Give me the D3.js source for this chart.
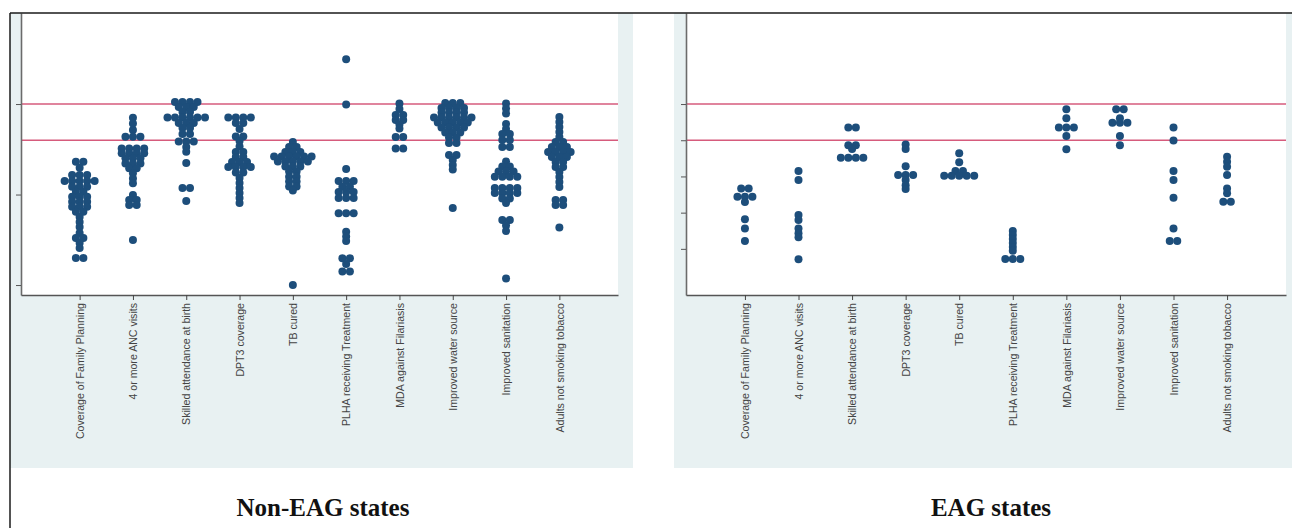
<!DOCTYPE html>
<html>
<head>
<meta charset="utf-8">
<script src="https://cdn.jsdelivr.net/npm/d3@7"></script>
<style>
  html, body { margin: 0; padding: 0; background: #ffffff; }
  svg { display: block; }
</style>
</head>
<body>
<script>
// Indicator names shared by both panels
const categories = [
  "Coverage of Family Planning",
  "4 or more ANC visits",
  "Skilled attendance at birth",
  "DPT3 coverage",
  "TB cured",
  "PLHA receiving Treatment",
  "MDA against Filariasis",
  "Improved water source",
  "Improved  sanitation",
  "Adults not smoking tobacco"
];

// Target lines drawn across both panels (percent)
const referenceLines = [100, 80];

// Tick positions on the (unlabelled) y axes
const nonEagTicks = [0, 50, 100];
const eagTicks = [20, 40, 60, 80, 100];

// Panel titles
const panelTitles = ["Non-EAG states", "EAG states"];

// Non-EAG states: one value per dot, per indicator (percent achieved)
const nonEagValues = [
  [68.1, 68.1, 64.8, 60.8, 60.8, 60.8, 57.5, 57.5, 57.5, 57.5, 57.5, 54.3, 54.3, 54.3,
   51.5, 51.5, 48.8, 48.8, 48.8, 46.0, 46.0, 46.0, 43.3, 43.3, 43.3, 40.5, 40.5,
   37.6, 34.8, 32.0, 28.7, 26.0, 26.0, 23.2, 20.4, 14.9, 14.9],
  [92.4, 89.3, 85.6, 81.9, 81.9, 81.9, 75.5, 75.5, 75.5, 75.5, 72.8, 72.8, 72.8, 72.8,
   70.0, 70.0, 70.0, 67.2, 67.2, 67.2, 64.5, 64.5, 61.7, 58.9, 56.2,
   49.7, 47.0, 47.0, 44.2, 44.2, 24.9],
  [101.1, 101.1, 101.1, 101.1, 98.3, 98.3, 98.3, 95.6, 95.6,
   92.5, 92.5, 92.5, 92.5, 92.5, 92.5, 89.5, 89.5, 89.5, 86.7, 86.7, 83.4, 83.4,
   79.3, 79.3, 79.3, 76.2, 73.6, 67.4, 53.6, 53.6, 46.4],
  [92.5, 92.5, 92.5, 92.5, 89.5, 89.5, 86.2, 82.0, 82.0, 79.6, 76.5, 73.5, 73.5,
   70.7, 70.7, 68.0, 68.0, 68.0, 65.2, 65.2, 65.2, 65.2, 62.2, 62.2,
   59.1, 56.4, 53.6, 50.8, 48.1, 45.3],
  [79.0, 76.2, 76.2, 73.5, 73.5, 73.5, 71.0, 71.0, 71.0, 71.0, 71.0, 71.0,
   68.2, 68.2, 68.2, 68.2, 68.2, 65.5, 65.5, 65.5, 62.7, 62.7, 59.9, 59.9,
   57.2, 57.2, 54.4, 54.4, 52.2, 0],
  [124.7, 99.8, 64.1, 57.5, 57.5, 57.5, 54.3, 54.3, 51.4, 51.4, 51.4, 48.1, 48.1, 48.1,
   39.6, 39.6, 39.6, 29.4, 26.8, 24.3, 14.8, 14.8, 11.6, 7.5, 7.5],
  [100.3, 97.2, 93.9, 93.9, 91.2, 91.2, 88.7, 86.5, 81.8, 81.8, 75.4, 75.4],
  [100.6, 100.6, 100.6, 97.8, 97.8, 97.8, 97.8, 95.3, 95.3, 95.3, 95.3,
   92.5, 92.5, 92.5, 92.5, 92.5, 92.5, 89.8, 89.8, 89.8, 89.8, 89.8,
   87.0, 87.0, 87.0, 87.0, 84.3, 84.3, 84.3, 81.5, 81.5, 78.5, 78.5,
   71.8, 71.8, 69.1, 66.3, 63.8, 42.5],
  [100.3, 97.5, 94.8, 89.0, 86.2, 83.4, 83.4, 80.1, 80.1, 76.2, 76.2,
   68.2, 65.5, 65.5, 62.7, 62.7, 62.7, 59.9, 59.9, 59.9, 59.9,
   53.6, 53.6, 53.6, 53.6, 50.8, 50.8, 50.8, 50.8, 47.8, 47.8, 45.3,
   35.9, 35.9, 32.9, 29.8, 3.6],
  [92.8, 90.1, 87.3, 84.5, 81.8, 79.0, 79.0, 76.2, 76.2, 76.2, 73.5, 73.5, 73.5, 73.5,
   70.7, 70.7, 70.7, 68.0, 68.0, 65.2, 65.2, 62.4, 59.7, 56.9, 54.1,
   47.0, 47.0, 44.2, 44.2, 31.8]
];

// EAG states: one value per dot, per indicator (percent achieved)
const eagValues = [
  [53.4, 53.4, 48.8, 48.8, 48.8, 45.9, 36.3, 31.3, 24.3],
  [63.0, 58.0, 38.7, 35.9, 31.3, 28.6, 26.4, 14.2],
  [87.1, 87.1, 77.3, 77.3, 75.1, 70.3, 70.3, 70.3, 70.3],
  [77.7, 75.1, 65.7, 60.8, 60.8, 60.8, 58.0, 55.2, 53.0],
  [72.8, 67.8, 63.0, 63.0, 60.4, 60.4, 60.4, 60.4, 60.4],
  [29.8, 27.6, 25.4, 23.2, 21.0, 19.0, 14.4, 14.4, 14.4],
  [97.1, 92.1, 87.1, 87.1, 87.1, 82.3, 75.0],
  [97.1, 97.1, 92.1, 89.7, 89.7, 89.7, 82.3, 77.3],
  [87.1, 79.9, 63.0, 58.0, 48.2, 31.3, 24.3, 24.3],
  [70.9, 68.1, 65.4, 60.8, 53.4, 50.7, 46.0, 46.0]
];

const W = 1292, H = 528;
const plotTop = 13, plotBottom = 295, panelBottom = 468;
const dotRadius = 4, dotStep = 7.5;
const dotColor = "#1d4e7b";
const refColor = "#d65b7c";
const panelFill = "#e8f1f2";

const panels = [
  { values: nonEagValues, ticks: nonEagTicks, title: panelTitles[0],
    bgX0: 10, bgX1: 633, axisX0: 21, axisX1: 618, titleX: 323 },
  { values: eagValues, ticks: eagTicks, title: panelTitles[1],
    bgX0: 674, bgX1: 1292, axisX0: 686, axisX1: 1286, titleX: 991 }
];

const svg = d3.select("body").append("svg")
  .attr("width", W).attr("height", H);

// Shared vertical scale (percent)
const y = d3.scaleLinear().domain([-5.5, 150.3]).range([plotBottom, plotTop]);

panels.forEach(p => {
  const g = svg.append("g");

  g.append("rect")
    .attr("x", p.bgX0).attr("y", plotTop)
    .attr("width", p.bgX1 - p.bgX0).attr("height", panelBottom - plotTop)
    .attr("fill", panelFill);

  g.append("rect")
    .attr("x", p.axisX0).attr("y", plotTop)
    .attr("width", p.axisX1 - p.axisX0).attr("height", plotBottom - plotTop)
    .attr("fill", "#ffffff");

  const x = d3.scalePoint().domain(categories)
    .range([p.axisX0, p.axisX1]).padding(1.1);

  // Target lines
  g.selectAll("line.ref").data(referenceLines).join("line")
    .attr("class", "ref")
    .attr("x1", p.axisX0).attr("x2", p.axisX1)
    .attr("y1", d => y(d)).attr("y2", d => y(d))
    .attr("stroke", refColor).attr("stroke-width", 1.6);

  // Dot plot: equal values share a row, centred on the category
  const dots = [];
  p.values.forEach((vals, i) => {
    const rows = d3.group(vals, v => v);
    rows.forEach((arr, v) => {
      const n = arr.length;
      arr.forEach((_, k) => {
        dots.push({ cat: categories[i], value: v, offset: (k - (n - 1) / 2) * dotStep });
      });
    });
  });

  g.selectAll("circle.dot").data(dots).join("circle")
    .attr("class", "dot")
    .attr("cx", d => x(d.cat) + d.offset)
    .attr("cy", d => y(d.value))
    .attr("r", dotRadius)
    .attr("fill", dotColor);

  // Y axis (ticks only)
  const ya = g.append("g")
    .attr("transform", `translate(${p.axisX0},0)`)
    .call(d3.axisLeft(y).tickValues(p.ticks).tickFormat("").tickSize(5).tickSizeOuter(0));
  ya.select(".domain").attr("stroke", "#6b6b6b").attr("stroke-width", 1.6);
  ya.selectAll(".tick line").attr("stroke", "#555");

  // X axis with rotated category labels
  const xa = g.append("g")
    .attr("transform", `translate(0,${plotBottom})`)
    .call(d3.axisBottom(x).tickSize(5).tickSizeOuter(0));
  xa.select(".domain").attr("stroke", "#555").attr("stroke-width", 1.6);
  xa.selectAll(".tick line").attr("stroke", "#444");
  xa.selectAll(".tick text")
    .attr("transform", "rotate(-90)")
    .attr("x", -8).attr("y", 0).attr("dy", "0.35em")
    .style("text-anchor", "end")
    .style("font-family", "'Liberation Sans', Arial, sans-serif")
    .style("font-size", "10.6px")
    .attr("fill", "#444");

  // Panel title
  svg.append("text")
    .attr("x", p.titleX).attr("y", 516)
    .attr("text-anchor", "middle")
    .style("font-family", "'Liberation Serif', 'Times New Roman', serif")
    .style("font-weight", "bold")
    .style("font-size", "25px")
    .attr("fill", "#111")
    .text(p.title);
});

// Outer frame (top and left rules)
svg.append("line").attr("x1", 10).attr("x2", W).attr("y1", plotTop).attr("y2", plotTop)
  .attr("stroke", "#1a1a1a").attr("stroke-width", 1.5);
svg.append("line").attr("x1", 10).attr("x2", 10).attr("y1", plotTop).attr("y2", H)
  .attr("stroke", "#1a1a1a").attr("stroke-width", 1.5);
</script>
</body>
</html>
